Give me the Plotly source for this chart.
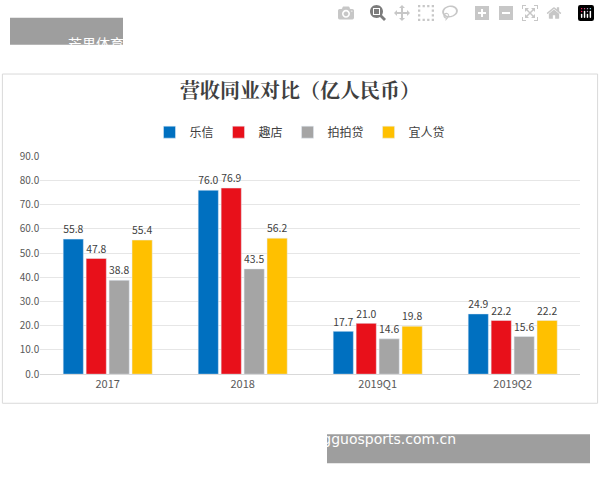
import plotly.graph_objects as go

categories = ["2017", "2018", "2019Q1", "2019Q2"]
series_names = ["乐信", "趣店", "拍拍贷", "宜人贷"]
lexin = [55.8, 76.0, 17.7, 24.9]
qudian = [47.8, 76.9, 21.0, 22.2]
paipaidai = [38.8, 43.5, 14.6, 15.6]
yirendai = [55.4, 56.2, 19.8, 22.2]
colors = ["#0070C0", "#E8101A", "#A5A5A5", "#FFC000"]
tick_vals = [0, 10, 20, 30, 40, 50, 60, 70, 80, 90]

fig = go.Figure()
for name, vals, c in zip(series_names, [lexin, qudian, paipaidai, yirendai], colors):
    fig.add_trace(go.Bar(x=categories, y=vals, name=name, marker_color=c,
                         text=[f"{v:.1f}" for v in vals], textposition="outside",
                         textfont=dict(size=11, color="#404040"), cliponaxis=False))

fig.update_layout(
    width=600, height=480, margin=dict(l=0, r=0, t=0, b=0), autosize=False,
    paper_bgcolor="white", plot_bgcolor="white",
    font=dict(family="Noto Sans CJK SC", color="#595959"),
    barmode="group", bargap=0.32, bargroupgap=0.12,
    title=dict(text="<b>营收同业对比（亿人民币）</b>", x=0.5, xanchor="center", y=0.81, yanchor="middle",
               font=dict(size=20, color="#404040", family="Noto Serif CJK SC, Noto Sans CJK SC")),
    legend=dict(orientation="h", x=0.5, xanchor="center", y=0.733, yanchor="middle",
                font=dict(size=12, color="#404040"), itemwidth=30, traceorder="normal"),
    xaxis=dict(domain=[0.067, 0.967], showline=True, linecolor="#D9D9D9",
               tickfont=dict(size=11, color="#595959")),
    yaxis=dict(domain=[0.2125, 0.681], range=[0, 90], tickvals=tick_vals,
               ticktext=[f"{v:.1f}" for v in tick_vals], gridcolor="#E6E6E6",
               zeroline=False, tickfont=dict(size=10, color="#595959")),
    shapes=[
        dict(type="rect", xref="paper", yref="paper", x0=0.004, x1=0.996, y0=0.15, y1=0.858,
             line=dict(color="#D9D9D9", width=1), layer="below"),
        dict(type="rect", xref="paper", yref="paper", x0=10/600, x1=123/600, y0=1-38/480, y1=1-10/480,
             fillcolor="#9E9E9E", line=dict(width=0), layer="below"),
        dict(type="rect", xref="paper", yref="paper", x0=327/600, x1=590/600, y0=1-470/480, y1=1-440/480,
             fillcolor="#9E9E9E", line=dict(width=0), layer="below"),
    ],
    annotations=[
        dict(text="芒果体育公司", xref="paper", yref="paper", x=66/600, y=1-24/480,
             showarrow=False, font=dict(size=14, color="white")),
        dict(text="official-mangguosports.com.cn", xref="paper", yref="paper", x=458/600, y=1-455/480,
             showarrow=False, font=dict(size=14, color="white", family="DejaVu Sans")),
    ],
)
fig.write_html("out.html", config={"responsive": False},
               post_script="document.body.style.margin='0';document.body.style.overflow='hidden';")
